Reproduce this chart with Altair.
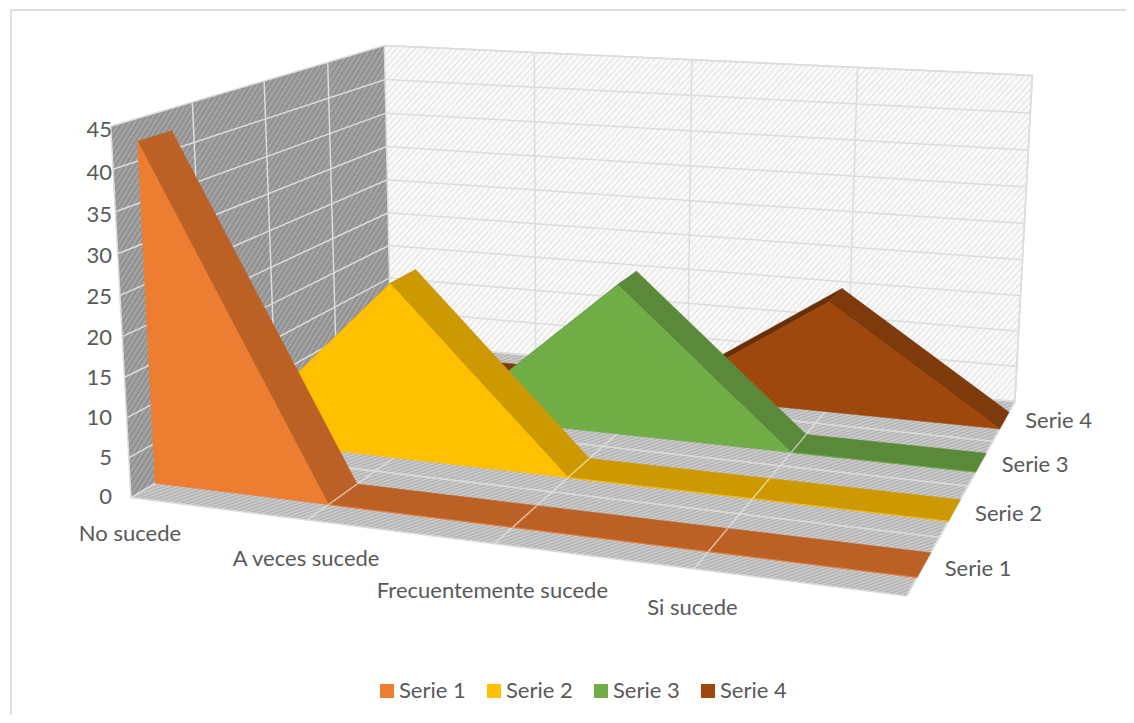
import altair as alt
import numpy as np
import pandas as pd

categories = ["No sucede", "A veces sucede", "Frecuentemente sucede", "Si sucede"]
series = ["Serie 1", "Serie 2", "Serie 3", "Serie 4"]
serie_1 = [42.3, 0, 0, 0, 0]
serie_2 = [0, 22.7, 0, 0, 0]
serie_3 = [0, 0, 20.1, 0, 0]
serie_4 = [0, 0, 0, 15.3, 0]
values = [serie_1, serie_2, serie_3, serie_4]
y_ticks = [0, 5, 10, 15, 20, 25, 30, 35, 40, 45]

front_colors = ["#ED7D31", "#FFC000", "#70AD47", "#9E480E"]
top_colors = ["#BC6125", "#CC9A00", "#5A8A39", "#7E3A0B"]
rise_colors = ["#A0521F", "#A67C00", "#4A7230", "#6A2F08"]
TXT = "#595959"
GRID = "#dcdcdc"
FONT = "Lato"
FS = 22
W, H = 1118, 707

# camera: calibration of the 3-D box (category, value, series depth) -> page
calib = [
    ((0, 0, 0), (129, 495)), ((4, 0, 0), (907, 598)), ((4, 0, 4), (1015, 402)),
    ((0, 0, 4), (390, 344)), ((0, 45, 0), (110, 127)), ((0, 45, 4), (385, 45)),
    ((4, 45, 4), (1033, 75)), ((1, 0, 0), (308, 517)), ((2, 0, 0), (497, 545)),
    ((3, 0, 0), (695, 570)), ((4, 0, 1), (937, 537)), ((4, 0, 2), (968, 486)),
    ((4, 0, 3), (993, 440)), ((0, 45, 1), (192, 103)), ((0, 45, 2), (264, 82)),
    ((0, 45, 3), (328, 62)), ((1, 45, 4), (535, 52)), ((2, 45, 4), (693, 59)),
    ((3, 45, 4), (855, 67)), ((0, 10, 4), (390, 278)),
]
A, b = [], []
for (X, Y, Z), (u, v) in calib:
    A.append([X, Y, Z, 1, 0, 0, 0, 0, -u * X, -u * Y, -u * Z])
    b.append(u)
    A.append([0, 0, 0, 0, X, Y, Z, 1, -v * X, -v * Y, -v * Z])
    b.append(v)
h = np.linalg.lstsq(np.array(A, float), np.array(b, float), rcond=None)[0]
P = np.append(h, 1).reshape(3, 4)


def proj(x, y, z):
    p = P @ np.array([x, y, z, 1.0])
    return float(p[0] / p[2]), float(p[1] / p[2])


def poly(pts):
    return [proj(*p) for p in pts]


SX = alt.Scale(domain=[8, 8 + W], nice=False, zero=False)
SY = alt.Scale(domain=[8 + H, 8], nice=False, zero=False)


def frame(polys):
    rows = []
    for g, pts in enumerate(polys):
        for i, (px, py) in enumerate(pts):
            rows.append({"g": g, "i": i, "px": px, "py": py})
    return pd.DataFrame(rows)


def enc(chart):
    return chart.encode(
        x=alt.X("px:Q", scale=SX, axis=None),
        y=alt.Y("py:Q", scale=SY, axis=None),
        detail="g:N",
        order="i:Q",
    )


def filled(polys, fill, stroke=None):
    closed = [p + [p[0]] for p in polys]
    kw = {"stroke": stroke if stroke else (fill if isinstance(fill, str) else "transparent")}
    return enc(alt.Chart(frame(closed)).mark_line(fill=fill, strokeWidth=0.6, **kw))


def lines(polys, color=GRID, width=1.5, opacity=1):
    return enc(alt.Chart(frame(polys)).mark_line(stroke=color, strokeWidth=width, opacity=opacity))


def hatch(pts, c1, c2, period, angle):
    xs = [p[0] for p in pts]
    ys = [p[1] for p in pts]
    w, h_ = max(xs) - min(xs), max(ys) - min(ys)
    a = np.radians(angle)
    n = np.array([np.sin(a), np.cos(a)])  # normal of stripes going up-right
    corners = [(0, 0), (1, 0), (0, 1), (1, 1)]
    t = [n[0] * cx * w + n[1] * cy * h_ for cx, cy in corners]
    s = corners[int(np.argmin(t))]
    span = max(t) - min(t)
    c = np.array([n[0] * w, n[1] * h_])
    v = c * span / (c @ c)
    count = int(span / period)
    stops = []
    for k in range(count + 1):
        stops.append({"offset": min(1, k / count), "color": c1})
        if k < count:
            stops.append({"offset": (k + 0.5) / count, "color": c2})
    return {"gradient": "linear", "x1": s[0], "y1": s[1], "x2": s[0] + v[0], "y2": s[1] + v[1], "stops": stops}


N = 4
layers = []

# legend carrier, hidden under the walls
legend_df = pd.DataFrame({
    "serie": series,
    "px": [proj(0.5, 5, 0.5)[0]] * 4,
    "py": [proj(0.5, 5, 0.5)[1]] * 4,
})
layers.append(
    alt.Chart(legend_df).mark_square(size=1, opacity=1).encode(
        x=alt.X("px:Q", scale=SX, axis=None),
        y=alt.Y("py:Q", scale=SY, axis=None),
        color=alt.Color(
            "serie:N",
            scale=alt.Scale(domain=series, range=front_colors),
            sort=series,
            legend=alt.Legend(
                title=None, orient="none", direction="horizontal", columns=4,
                legendX=368, legendY=672, symbolType="square", symbolSize=196,
                symbolStrokeWidth=0, labelFont=FONT, labelFontSize=FS, labelColor=TXT,
                columnPadding=17, labelOffset=1, padding=0,
            ),
        ),
    )
)

left = poly([(0, 0, 0), (0, 45, 0), (0, 45, N), (0, 0, N)])
back = poly([(0, 0, N), (0, 45, N), (N, 45, N), (N, 0, N)])
floor = poly([(0, 0, 0), (N, 0, 0), (N, 0, N), (0, 0, N)])
layers.append(filled([left], hatch(left, "#8c8c8c", "#a8a8a8", 4.2, 58)))
layers.append(filled([back], hatch(back, "#ffffff", "#e8e8e8", 4.5, 48)))
layers.append(filled([floor], hatch(floor, "#b0b0b0", "#cfcfcf", 3, 20)))

grid = []
for v in y_ticks:
    grid.append(poly([(0, v, 0), (0, v, N), (N, v, N)]))
for z in range(0, N + 1):
    grid.append(poly([(0, 45, z), (0, 0, z), (N, 0, z)]))
for x in range(1, N + 1):
    grid.append(poly([(x, 0, 0), (x, 0, N), (x, 45, N)]))
grid.append(poly([(N, 0, 0), (N, 0, N), (N, 45, N), (0, 45, N)]))
layers.append(lines(grid))

Z_FRONT, Z_BACK = 0.30, 0.72
for i in reversed(range(4)):
    zf, zb = i + Z_FRONT, i + Z_BACK
    vals = values[i]
    rising, tops = [], []
    for k in range(4):
        q = poly([(k, vals[k], zf), (k + 1, vals[k + 1], zf), (k + 1, vals[k + 1], zb), (k, vals[k], zb)])
        (rising if vals[k + 1] > vals[k] else tops).append(q)
    if rising:
        layers.append(filled(rising, rise_colors[i]))
    layers.append(filled(tops, top_colors[i]))
    fr = poly([(k, vals[k], zf) for k in range(5)] + [(4, 0, zf), (0, 0, zf)])
    layers.append(filled([fr], front_colors[i]))
    peak = int(np.argmax(vals))
    seams = [poly([(x, 0, zf), (x, 0, zb)]) for x in range(peak + 1, 4)]
    layers.append(lines(seams, "#ffffff", 1.5, 0.55))

# y axis labels
ydf = pd.DataFrame({"t": [str(v) for v in y_ticks], "px": [112.0] * len(y_ticks),
                    "py": [proj(0, v, 0)[1] - 1 + v / 9 for v in y_ticks]})
# category labels
cat_dx = [-1, -1, -2, -1.5]
cat_dy = [36, 39, 47, 39]
cdf = pd.DataFrame({"t": categories,
                    "px": [proj(k, 0, 0)[0] + cat_dx[k] for k in range(4)],
                    "py": [proj(k, 0, 0)[1] + cat_dy[k] for k in range(4)]})
# series labels
ser_dy = [4, 3, 2, 0]
sdf = pd.DataFrame({"t": series,
                    "px": [proj(N, 0, k + 0.5)[0] + 21 for k in range(4)],
                    "py": [proj(N, 0, k + 0.5)[1] + ser_dy[k] for k in range(4)]})
for d, al in ((ydf, "right"), (cdf, "center"), (sdf, "left")):
    layers.append(
        alt.Chart(d).mark_text(align=al, baseline="middle", font=FONT, fontSize=FS, color=TXT).encode(
            x=alt.X("px:Q", scale=SX, axis=None),
            y=alt.Y("py:Q", scale=SY, axis=None),
            text="t:N",
        )
    )

# chart-area edge
layers.append(lines([[(11, 8 + H), (11, 10), (8 + W, 10)]], "#dedede", 2))

chart = alt.layer(*layers).properties(
    width=W, height=H, padding=0, autosize=alt.AutoSizeParams(type="none")
).configure_view(stroke=None).resolve_scale(color="independent")

chart.save("out.html", embed_options={"renderer": "svg", "actions": False})
